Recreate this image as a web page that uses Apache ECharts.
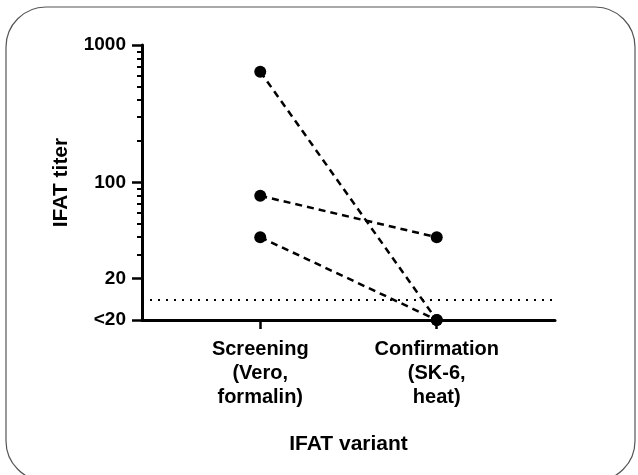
<!DOCTYPE html>
<html>
<head>
<meta charset="utf-8">
<script src="https://cdn.jsdelivr.net/npm/echarts@6/dist/echarts.min.js"></script>
<style>
  html, body { margin: 0; padding: 0; background: #fff; }
  #chart { width: 638px; height: 475px; }
</style>
</head>
<body>
<div id="chart"></div>
<script>
// categories on the x axis (placed at 0 and 1)
const categories = ['Screening\n(Vero,\nformalin)', 'Confirmation\n(SK-6,\nheat)'];

// one line per animal: [screening, confirmation]; 10 stands for "<20"
const animalA = [640, 10];
const animalB = [80, 40];
const animalC = [40, 10];

// y tick labels
const yTickValues = [10, 20, 100, 1000];
const yTickLabels = ['<20', '20', '100', '1000'];
const yMinorTicks = [30, 40, 50, 60, 70, 80, 90, 200, 300, 400, 500, 600, 700, 800, 900];

// detection cutoff (dotted line)
const cutoff = 14;

const font = 'Liberation Sans, Arial, sans-serif';

function makeSeries(values, withCutoff) {
  const s = {
    type: 'line',
    data: values.map((v, i) => [i, v]),
    symbol: 'circle',
    symbolSize: 12,
    itemStyle: { color: '#000' },
    lineStyle: { color: '#000', width: 2.5, type: [7, 5] },
    silent: true,
    z: 5
  };
  if (withCutoff) {
    s.markLine = {
      silent: true,
      symbol: 'none',
      label: { show: false },
      lineStyle: { color: '#000', width: 2, type: [2, 6] },
      data: [{ yAxis: cutoff }]
    };
  }
  return s;
}

const chart = echarts.init(document.getElementById('chart'));
chart.setOption({
  animation: false,
  backgroundColor: '#fff',
  graphic: [{
    type: 'rect',
    shape: { x: 6, y: 7, width: 629, height: 474, r: 40 },
    style: { fill: 'none', stroke: '#555', lineWidth: 1.2 },
    silent: true
  }],
  grid: { left: 142, right: 83, top: 45, bottom: 155 },
  xAxis: {
    type: 'value',
    min: -0.67,
    max: 1.67,
    name: 'IFAT variant',
    nameLocation: 'middle',
    nameGap: 114,
    nameTextStyle: { fontFamily: font, fontWeight: 'bold', fontSize: 21, color: '#000' },
    axisLine: { onZero: false, lineStyle: { color: '#000', width: 3 } },
    axisTick: { customValues: [0, 1], length: 9, lineStyle: { color: '#000', width: 2.5 } },
    axisLabel: {
      customValues: [0, 1],
      formatter: v => categories[Math.round(v)],
      margin: 17,
      fontFamily: font, fontWeight: 'bold', fontSize: 20, lineHeight: 24, color: '#000',
      align: 'center'
    },
    splitLine: { show: false }
  },
  yAxis: [{
    type: 'log',
    logBase: 10,
    min: 10,
    max: 1000,
    name: 'IFAT titer',
    nameLocation: 'middle',
    nameGap: 70,
    nameTextStyle: { fontFamily: font, fontWeight: 'bold', fontSize: 21, color: '#000' },
    axisLine: { show: true, onZero: false, lineStyle: { color: '#000', width: 3 } },
    axisTick: { customValues: yTickValues, length: 10, lineStyle: { color: '#000', width: 2.5 } },
    axisLabel: {
      customValues: yTickValues,
      formatter: v => yTickLabels[yTickValues.indexOf(v)] ?? '',
      margin: 16,
      fontFamily: font, fontWeight: 'bold', fontSize: 19, color: '#000'
    },
    splitLine: { show: false }
  }, {
    type: 'log',
    logBase: 10,
    min: 10,
    max: 1000,
    position: 'left',
    axisLine: { show: false, onZero: false },
    axisTick: { show: true, customValues: yMinorTicks, length: 5, lineStyle: { color: '#000', width: 2 } },
    axisLabel: { show: false },
    splitLine: { show: false }
  }],
  series: [
    makeSeries(animalA, true),
    makeSeries(animalB, false),
    makeSeries(animalC, false)
  ]
});
</script>
</body>
</html>
